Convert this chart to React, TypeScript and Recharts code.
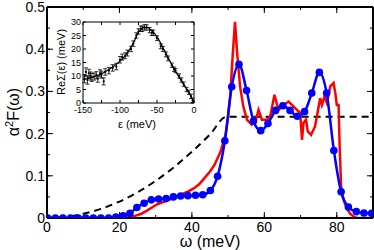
import React from 'react';
import { ComposedChart, Line, XAxis, YAxis, Scatter, ErrorBar } from 'recharts';

const FONT = '"Liberation Sans", Arial, Helvetica, sans-serif';

// Main chart: x axis (omega, meV)
const xMajorTicks = [0, 20, 40, 60, 80];
const xMinorTicks = [0, 10, 20, 30, 40, 50, 60, 70, 80, 90];
const yMajorTicks = [0, 0.1, 0.2, 0.3, 0.4, 0.5];
const yMinorTicks = [0, 0.05, 0.1, 0.15, 0.2, 0.25, 0.3, 0.35, 0.4, 0.45, 0.5];

// Blue series (dots + smooth line)
const blueX = [0.2, 2.3, 4.4, 6.5, 8.6, 10.7, 12.8, 14.9, 17, 19, 21, 22.9, 24.8, 26.8, 28.8, 30.8, 32.9, 34.9, 36.9, 38.9, 41, 43, 45.1, 47.1, 49.1, 51, 53, 55.1, 57, 59, 61, 63.1, 65.1, 67.1, 69.1, 71.1, 73.1, 75.2, 77.2, 79.2, 81.2, 83.2, 85.4, 87.5, 89.6];
const blueY = [0, 0, 0, 0, 0, 0, 0, 0, 0, 0.002, 0.005, 0.011, 0.025, 0.035, 0.043, 0.045, 0.046, 0.05, 0.052, 0.053, 0.054, 0.055, 0.065, 0.099, 0.183, 0.311, 0.364, 0.302, 0.23, 0.207, 0.224, 0.255, 0.266, 0.255, 0.241, 0.252, 0.296, 0.345, 0.296, 0.16, 0.062, 0.026, 0.015, 0.012, 0.011];

// Red series (jagged line)
const redX = [0, 5, 10, 15, 20, 22, 24, 26, 27.7, 30.3, 33.2, 35, 36.9, 38.5, 40.5, 42, 43.4, 45, 46.2, 47.9, 49.3, 50, 50.6, 51.3, 51.9, 52.5, 53.3, 54.2, 55.2, 56.5, 57.7, 58.4, 59.3, 60.7, 61.6, 62.8, 63.9, 65.3, 66.7, 67.6, 69, 69.9, 70.4, 70.8, 71.5, 72, 72.9, 74, 75, 75.4, 75.9, 76.6, 77.3, 78.2, 79.1, 79.6, 80, 80.5, 80.8, 81.2, 81.9, 82.8, 83.7, 84.5, 85.5, 90];
const redY = [0, 0, 0, 0, 0, 0.001, 0.004, 0.01, 0.018, 0.032, 0.042, 0.047, 0.055, 0.061, 0.07, 0.08, 0.094, 0.11, 0.125, 0.157, 0.197, 0.24, 0.29, 0.39, 0.465, 0.39, 0.312, 0.264, 0.233, 0.221, 0.233, 0.256, 0.233, 0.233, 0.24, 0.292, 0.256, 0.268, 0.276, 0.268, 0.256, 0.249, 0.185, 0.225, 0.233, 0.205, 0.197, 0.217, 0.264, 0.284, 0.268, 0.288, 0.272, 0.312, 0.32, 0.296, 0.268, 0.268, 0.169, 0.074, 0.042, 0.022, 0.01, 0.004, 0, 0];

// Dashed black series
const dashX = [0, 5, 10, 15, 20, 25, 30, 35, 40, 45, 49.5, 90];
const dashY = [0, 0.0025, 0.01, 0.022, 0.039, 0.061, 0.088, 0.12, 0.157, 0.198, 0.24, 0.24];

// Inset: Re Sigma(eps)
const insetXTicks = [-150, -100, -50, 0];
const insetXMinor = [-150, -125, -100, -75, -50, -25, 0];
const insetYTicks = [0, 5, 10, 15, 20, 25, 30];
const curveX = [-150, -140, -130, -120, -110, -100, -90, -82, -75, -68, -63, -57, -50, -40, -30, -20, -10, 0];
const curveY = [8.6, 9.3, 10.2, 11.6, 13.3, 15.5, 18.5, 22.2, 26.2, 27.9, 27.9, 26.8, 24.5, 19.5, 14.2, 9.5, 5.2, 0.5];
const ptX = [-148, -146, -144, -142, -140, -138, -135, -132, -130, -127, -125, -122, -120, -115, -110, -105, -100, -97, -93, -90, -85, -82, -78, -75, -72, -70, -67, -64, -60, -57, -55, -50, -45, -42, -38, -35, -30, -27, -25, -20, -17, -14, -10, -7, -4, -2];
const ptY = [9, 11.5, 8.5, 11, 10, 9.5, 9.8, 10.3, 9, 11, 10.5, 8, 11.5, 12, 13, 13.5, 16, 17, 17.5, 18.5, 20, 22, 25, 26.5, 27.5, 27.5, 28, 28, 27, 26, 26, 24, 21, 20, 18, 16.5, 14, 12.5, 12, 10, 8.5, 7, 5, 4, 2.5, 1];
const ptErr = [1.5, 1.5, 1.5, 1.5, 1.5, 1.5, 1.3, 1.3, 1.3, 1.3, 1.3, 1.3, 1.2, 1.2, 1.2, 1.2, 1.2, 1.1, 1.1, 1.1, 1, 1, 1, 1, 1, 1, 1, 1, 1, 1, 1, 0.9, 0.9, 0.9, 0.9, 0.9, 0.8, 0.8, 0.8, 0.8, 0.8, 0.8, 0.8, 0.8, 0.8, 0.8];

const blueData = blueX.map((x, i) => ({ x, y: blueY[i] }));
const redData = redX.map((x, i) => ({ x, y: redY[i] }));
const dashData = dashX.map((x, i) => ({ x, y: dashY[i] }));
const curveData = curveX.map((x, i) => ({ x, y: curveY[i] }));
const ptData = ptX.map((x, i) => ({ x, y: ptY[i], e: ptErr[i] }));

const blank = () => '';
const T = 0.01; // tiny thickness for mirrored frame axes
const tl = { stroke: '#000', strokeWidth: 1 };

export default function App() {
  return (
    <div style={{ position: 'absolute', left: 0, top: 0, width: 374, height: 250, background: '#fff', fontFamily: FONT }}>
      <ComposedChart width={374} height={250} margin={{ top: 7, right: 1, left: 0, bottom: 0 }}>
        {/* bottom */}
        <XAxis xAxisId="x" dataKey="x" type="number" domain={[0, 90]} allowDataOverflow ticks={xMajorTicks} interval={0}
          tickLine={false} tickSize={0} tickMargin={4} height={32}
          axisLine={{ stroke: '#000', strokeWidth: 2 }} tick={{ fill: '#000', fontSize: 14, fontFamily: FONT }} />
        <XAxis xAxisId="xb1" dataKey="x" type="number" domain={[0, 90]} allowDataOverflow ticks={xMinorTicks} interval={0} mirror height={T}
          tickSize={3} tickFormatter={blank} axisLine={false} tickLine={tl} />
        <XAxis xAxisId="xb2" dataKey="x" type="number" domain={[0, 90]} allowDataOverflow ticks={xMajorTicks} interval={0} mirror height={T}
          tickSize={6} tickFormatter={blank} axisLine={false} tickLine={tl} />
        {/* top */}
        <XAxis xAxisId="xt1" dataKey="x" orientation="top" type="number" domain={[0, 90]} allowDataOverflow ticks={xMinorTicks} interval={0} mirror height={T}
          tickSize={3} tickFormatter={blank} axisLine={{ stroke: '#000', strokeWidth: 2 }} tickLine={tl} />
        <XAxis xAxisId="xt2" dataKey="x" orientation="top" type="number" domain={[0, 90]} allowDataOverflow ticks={xMajorTicks} interval={0} mirror height={T}
          tickSize={6} tickFormatter={blank} axisLine={false} tickLine={tl} />
        {/* left */}
        <YAxis yAxisId="y" type="number" domain={[0, 0.5]} allowDataOverflow ticks={yMajorTicks} interval={0} width={47}
          tickLine={false} tickSize={0} tickMargin={2}
          axisLine={{ stroke: '#000', strokeWidth: 2 }} tick={{ fill: '#000', fontSize: 14, fontFamily: FONT }} />
        <YAxis yAxisId="yl1" type="number" domain={[0, 0.5]} allowDataOverflow ticks={yMinorTicks} interval={0} mirror width={T}
          tickSize={3} tickFormatter={blank} axisLine={false} tickLine={tl} />
        <YAxis yAxisId="yl2" type="number" domain={[0, 0.5]} allowDataOverflow ticks={yMajorTicks} interval={0} mirror width={T}
          tickSize={6} tickFormatter={blank} axisLine={false} tickLine={tl} />
        {/* right */}
        <YAxis yAxisId="yr1" orientation="right" type="number" domain={[0, 0.5]} allowDataOverflow ticks={yMinorTicks} interval={0} mirror width={T}
          tickSize={3} tickFormatter={blank} axisLine={{ stroke: '#000', strokeWidth: 2 }} tickLine={tl} />
        <YAxis yAxisId="yr2" orientation="right" type="number" domain={[0, 0.5]} allowDataOverflow ticks={yMajorTicks} interval={0} mirror width={T}
          tickSize={6} tickFormatter={blank} axisLine={false} tickLine={tl} />

        <Line xAxisId="x" yAxisId="y" data={dashData} dataKey="y" type="monotone" stroke="#000" strokeWidth={2}
          strokeDasharray="7 5" dot={false} isAnimationActive={false} />
        <Line xAxisId="x" yAxisId="y" data={redData} dataKey="y" type="linear" stroke="#ff0000" strokeWidth={2.5}
          dot={false} isAnimationActive={false} />
        <Line xAxisId="x" yAxisId="y" data={blueData} dataKey="y" type="monotone" stroke="#0000ff" strokeWidth={2.5}
          dot={{ r: 3.8, fill: '#0000ff', stroke: '#0000ff', strokeWidth: 0 }} isAnimationActive={false} />
      </ComposedChart>

      {/* inset */}
      <div style={{ position: 'absolute', left: 50, top: 10, width: 150, height: 120 }}>
        <ComposedChart width={150} height={120} margin={{ top: 12, right: 6, left: 0, bottom: 0 }}>
          <XAxis xAxisId="ix" dataKey="x" type="number" domain={[-150, 0]} allowDataOverflow ticks={insetXTicks} interval={0}
            tickLine={false} tickSize={0} tickMargin={4} height={27}
            axisLine={{ stroke: '#000', strokeWidth: 1 }} tick={{ fill: '#000', fontSize: 9, fontFamily: FONT }} />
          <XAxis xAxisId="ixb" dataKey="x" type="number" domain={[-150, 0]} allowDataOverflow ticks={insetXMinor} interval={0} mirror height={T}
            tickSize={3} tickFormatter={blank} axisLine={false} tickLine={tl} />
          <XAxis xAxisId="ixt" dataKey="x" orientation="top" type="number" domain={[-150, 0]} allowDataOverflow ticks={insetXMinor} interval={0} mirror height={T}
            tickSize={3} tickFormatter={blank} axisLine={{ stroke: '#000', strokeWidth: 1 }} tickLine={tl} />
          <YAxis yAxisId="iy" dataKey="y" type="number" domain={[0, 30]} allowDataOverflow ticks={insetYTicks} interval={0} width={33}
            tickLine={false} tickSize={0} tickMargin={2}
            axisLine={{ stroke: '#000', strokeWidth: 1 }} tick={{ fill: '#000', fontSize: 9, fontFamily: FONT }} />
          <YAxis yAxisId="iyl" type="number" domain={[0, 30]} allowDataOverflow ticks={insetYTicks} interval={0} mirror width={T}
            tickSize={3} tickFormatter={blank} axisLine={false} tickLine={tl} />
          <YAxis yAxisId="iyr" orientation="right" type="number" domain={[0, 30]} allowDataOverflow ticks={insetYTicks} interval={0} mirror width={T}
            tickSize={3} tickFormatter={blank} axisLine={{ stroke: '#000', strokeWidth: 1 }} tickLine={tl} />

          <Scatter xAxisId="ix" yAxisId="iy" data={ptData} dataKey="y" fill="#000" isAnimationActive={false}
            shape={(p: any) => <circle cx={p.cx} cy={p.cy} r={1.1} fill="#000" />}>
            <ErrorBar dataKey="e" direction="y" width={2} stroke="#000" strokeWidth={0.8} />
          </Scatter>
          <Line xAxisId="ix" yAxisId="iy" data={curveData} dataKey="y" type="monotone" stroke="#000" strokeWidth={1.2}
            dot={false} isAnimationActive={false} />
        </ComposedChart>
      </div>

      {/* axis titles */}
      <div style={{ position: 'absolute', left: 210, top: 242, transform: 'translate(-50%, -50%)', fontSize: 16, whiteSpace: 'nowrap', color: '#000', lineHeight: 0.9 }}>
        ω (meV)
      </div>
      <div style={{ position: 'absolute', left: 13, top: 112, transform: 'translate(-50%, -50%) rotate(-90deg)', fontSize: 16, whiteSpace: 'nowrap', color: '#000', lineHeight: 1 }}>
        α<span style={{ fontSize: 11, verticalAlign: 'super' }}>2</span>F(ω)
      </div>
      <div style={{ position: 'absolute', left: 61, top: 62, transform: 'translate(-50%, -50%) rotate(-90deg)', fontSize: 11, whiteSpace: 'nowrap', color: '#000', lineHeight: 1 }}>
        ReΣ(ε) (meV)
      </div>
      <div style={{ position: 'absolute', left: 137, top: 124, transform: 'translate(-50%, -50%)', fontSize: 11, whiteSpace: 'nowrap', color: '#000', lineHeight: 1 }}>
        ε (meV)
      </div>
    </div>
  );
}
